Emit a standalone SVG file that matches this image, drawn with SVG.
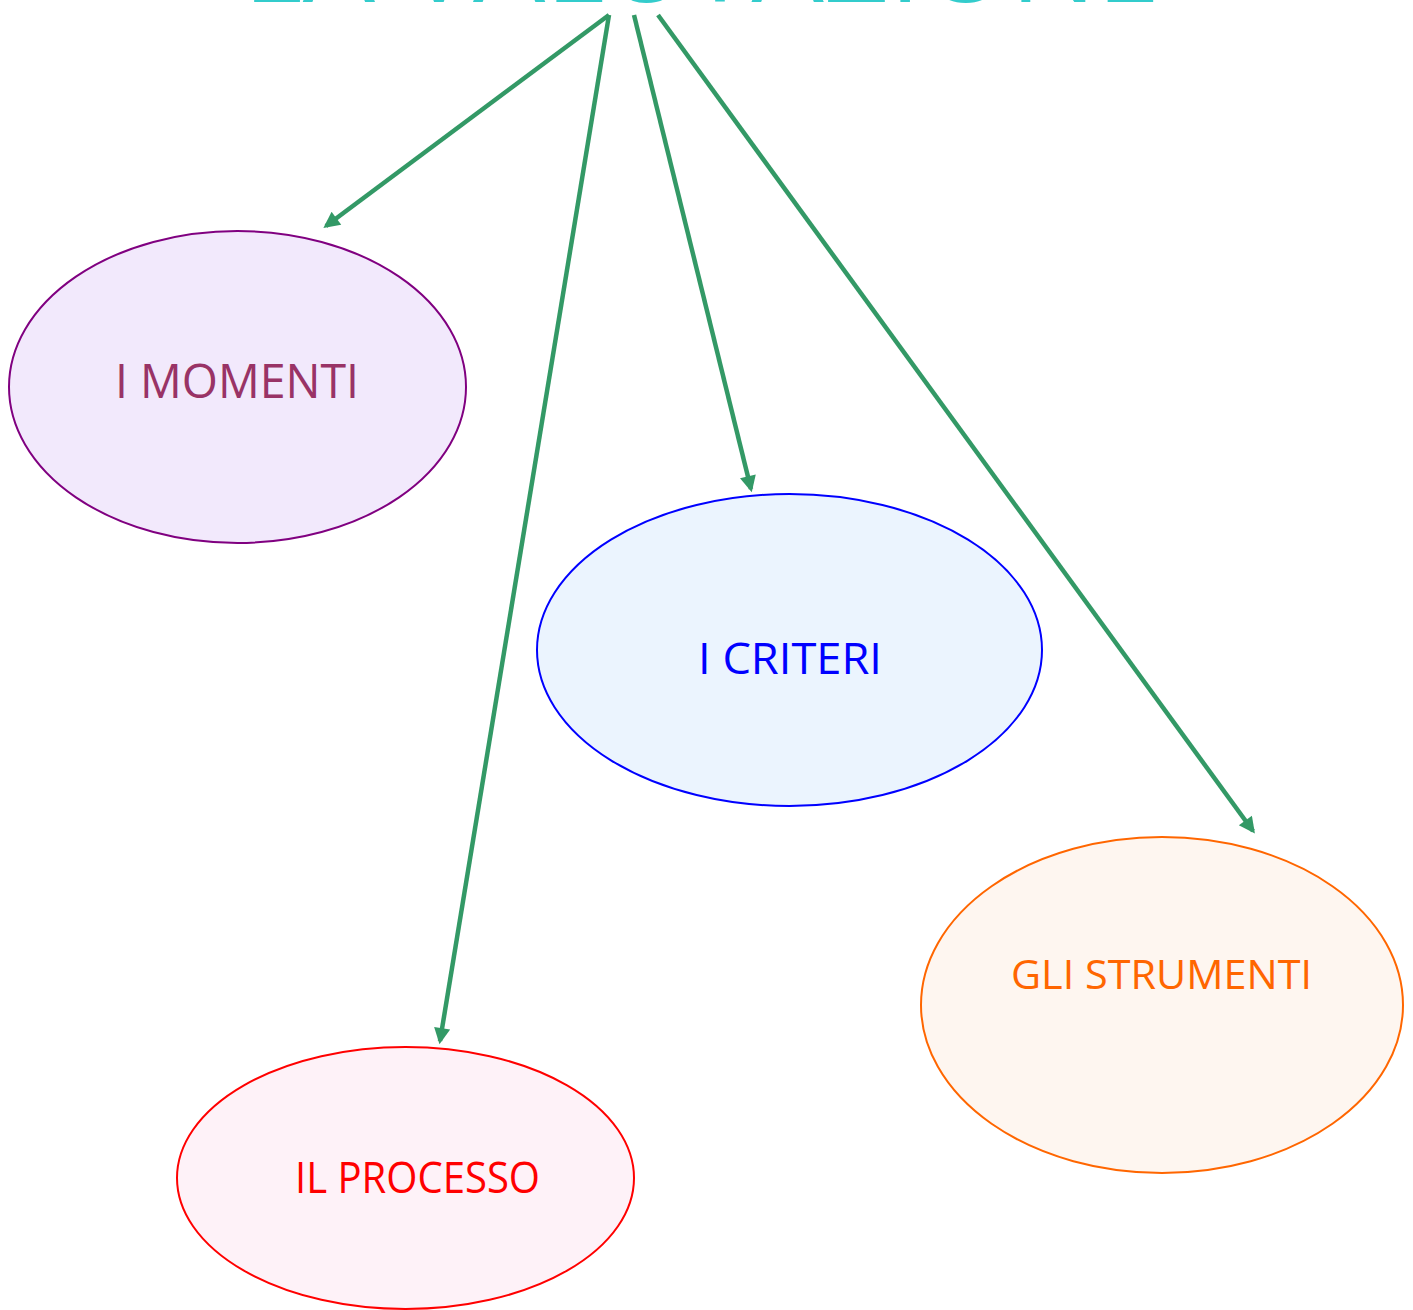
<svg xmlns="http://www.w3.org/2000/svg" width="1413" height="1310" viewBox="0 0 1413 1310">
<style>
.lbl{font-family:"Open Sans","Liberation Sans",sans-serif;}
.edge{stroke:#339966;stroke-width:4.5;fill:none;marker-end:url(#ah);}
</style>
<defs>
<marker id="ah" viewBox="0 0 10 10" refX="8" refY="5" markerWidth="4.4" markerHeight="3.6" orient="auto" markerUnits="strokeWidth">
<path d="M0,0 L10,5 L0,10 z" fill="#339966"/>
</marker>
</defs>
<rect width="1413" height="1310" fill="#ffffff"/>
<text id="title" class="lbl" x="243" y="2" font-size="110" fill="#33CCCC" textLength="917" lengthAdjust="spacingAndGlyphs">LA VALUTAZIONE</text>
<g id="connectors">
<line class="edge" x1="609" y1="15" x2="326" y2="226"/>
<line class="edge" x1="609" y1="15" x2="440" y2="1041"/>
<line class="edge" x1="634" y1="15" x2="751" y2="489"/>
<line class="edge" x1="658" y1="15" x2="1253" y2="831"/>
</g>
<g id="node-momenti">
<ellipse cx="237.5" cy="387" rx="228.5" ry="156" fill="#F2E9FC" stroke="#800080" stroke-width="2"/>
<text class="lbl" x="115" y="398" font-size="48" fill="#993366" textLength="244" lengthAdjust="spacingAndGlyphs">I MOMENTI</text>
</g>
<g id="node-criteri">
<ellipse cx="789.5" cy="650" rx="252.5" ry="156" fill="#EBF4FE" stroke="#0000FF" stroke-width="2"/>
<text class="lbl" x="698" y="674" font-size="44" fill="#0000FF" textLength="184" lengthAdjust="spacingAndGlyphs">I CRITERI</text>
</g>
<g id="node-strumenti">
<ellipse cx="1162" cy="1005" rx="241" ry="168" fill="#FEF6F0" stroke="#FF6600" stroke-width="2"/>
<text class="lbl" x="1011" y="989" font-size="41" fill="#FF6600" textLength="301" lengthAdjust="spacingAndGlyphs">GLI STRUMENTI</text>
</g>
<g id="node-processo">
<ellipse cx="405.5" cy="1178" rx="228.5" ry="131" fill="#FEF2F8" stroke="#FF0000" stroke-width="2"/>
<text class="lbl" x="295" y="1193" font-size="43" fill="#FF0000" textLength="245" lengthAdjust="spacingAndGlyphs">IL PROCESSO</text>
</g>
</svg>
